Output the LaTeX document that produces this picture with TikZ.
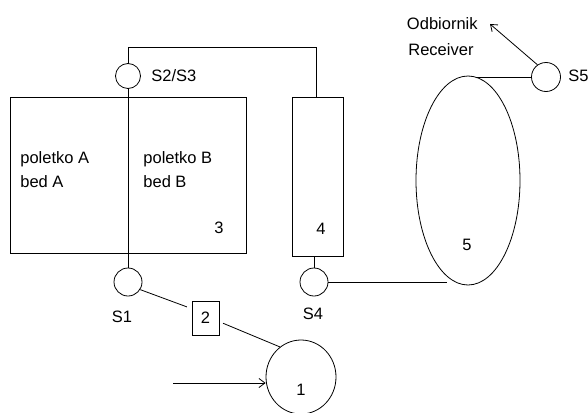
\documentclass[tikz,border=0pt]{standalone}
\usepackage{fontspec}
\setmainfont{Liberation Sans}
\usetikzlibrary{positioning,shapes.geometric,arrows.meta}

\begin{document}
\begin{tikzpicture}[x=1pt, y=-1pt, line width=0.8pt,
  box/.style={draw, inner sep=0pt},
  sensor/.style={draw, circle, inner sep=0pt, minimum size=28pt},
  tank/.style={draw, ellipse, inner sep=0pt},
  arrow/.style={-{Straight Barb[length=6pt,width=9pt]}},
  tag/.style={font=\fontsize{16.5}{24}\selectfont, inner sep=0pt}
]
\useasboundingbox (0,0) rectangle (588,412);
% beds, column and tanks
\node[box, minimum width=236pt, minimum height=156pt] (bed) at (128,175) {};
\node[box, minimum width=51pt, minimum height=159pt] (col4) at (318,176.5) {};
\node[box, tag, minimum width=27pt, minimum height=34pt] (box2) at (205.5,318) {2};
\node[tank, minimum width=104pt, minimum height=209pt] (tank5) at (468,180.5) {};
\node[tank, minimum width=70pt, minimum height=74pt] (tank1) at (301,377) {};
% sensors
\node[sensor, minimum size=25pt] (s23) at (128,76) {};
\node[sensor] (s1) at (128,282) {};
\node[sensor] (s4) at (314,282) {};
\node[sensor, minimum size=29pt] (s5) at (546,77) {};
\coordinate (feed) at (173,383);
% texts
\node[tag, anchor=west] (s23lbl) at (151,76) {S2/S3};
\node[tag] (s1lbl) at (122,317) {S1};
\node[tag] (s4lbl) at (313,314) {S4};
\node[tag, anchor=west] (s5lbl) at (568,76) {S5};
\node[tag, align=left, anchor=west] (bedA) at (20,170) {poletko A\\bed A};
\node[tag, align=left, anchor=west] (bedB) at (143,170) {poletko B\\bed B};
\node[tag] (n3) at (219,228) {3};
\node[tag] (n4) at (321,229) {4};
\node[tag] (n5) at (467,245) {5};
\node[tag] (n1) at (301,390) {1};
\node[tag, anchor=east] (odb) at (478,24) {Odbiornik};
\node[tag, anchor=west] (rcv) at (408,50) {Receiver};
% connections
\draw (s23.south) -- (s1.north);
\draw (s23.north) -- ++(0,-16) -| ([xshift=-2pt]col4.north);
\draw (col4.south -| s4) -- (s4.north);
\draw (s4.east) -- (s4.east -| tank5.258);
\draw (s5.west -| tank5.85) -- (s5.west);
\draw[arrow] (s5.125) -- ([xshift=12pt]odb.east);
\draw[shorten >=5pt] (s1.-32) -- (box2.146);
\draw[shorten <=4pt] (box2.-15) -- (tank1.125);
\draw[arrow] (feed) -- (feed -| tank1.west);
\end{tikzpicture}
\end{document}
